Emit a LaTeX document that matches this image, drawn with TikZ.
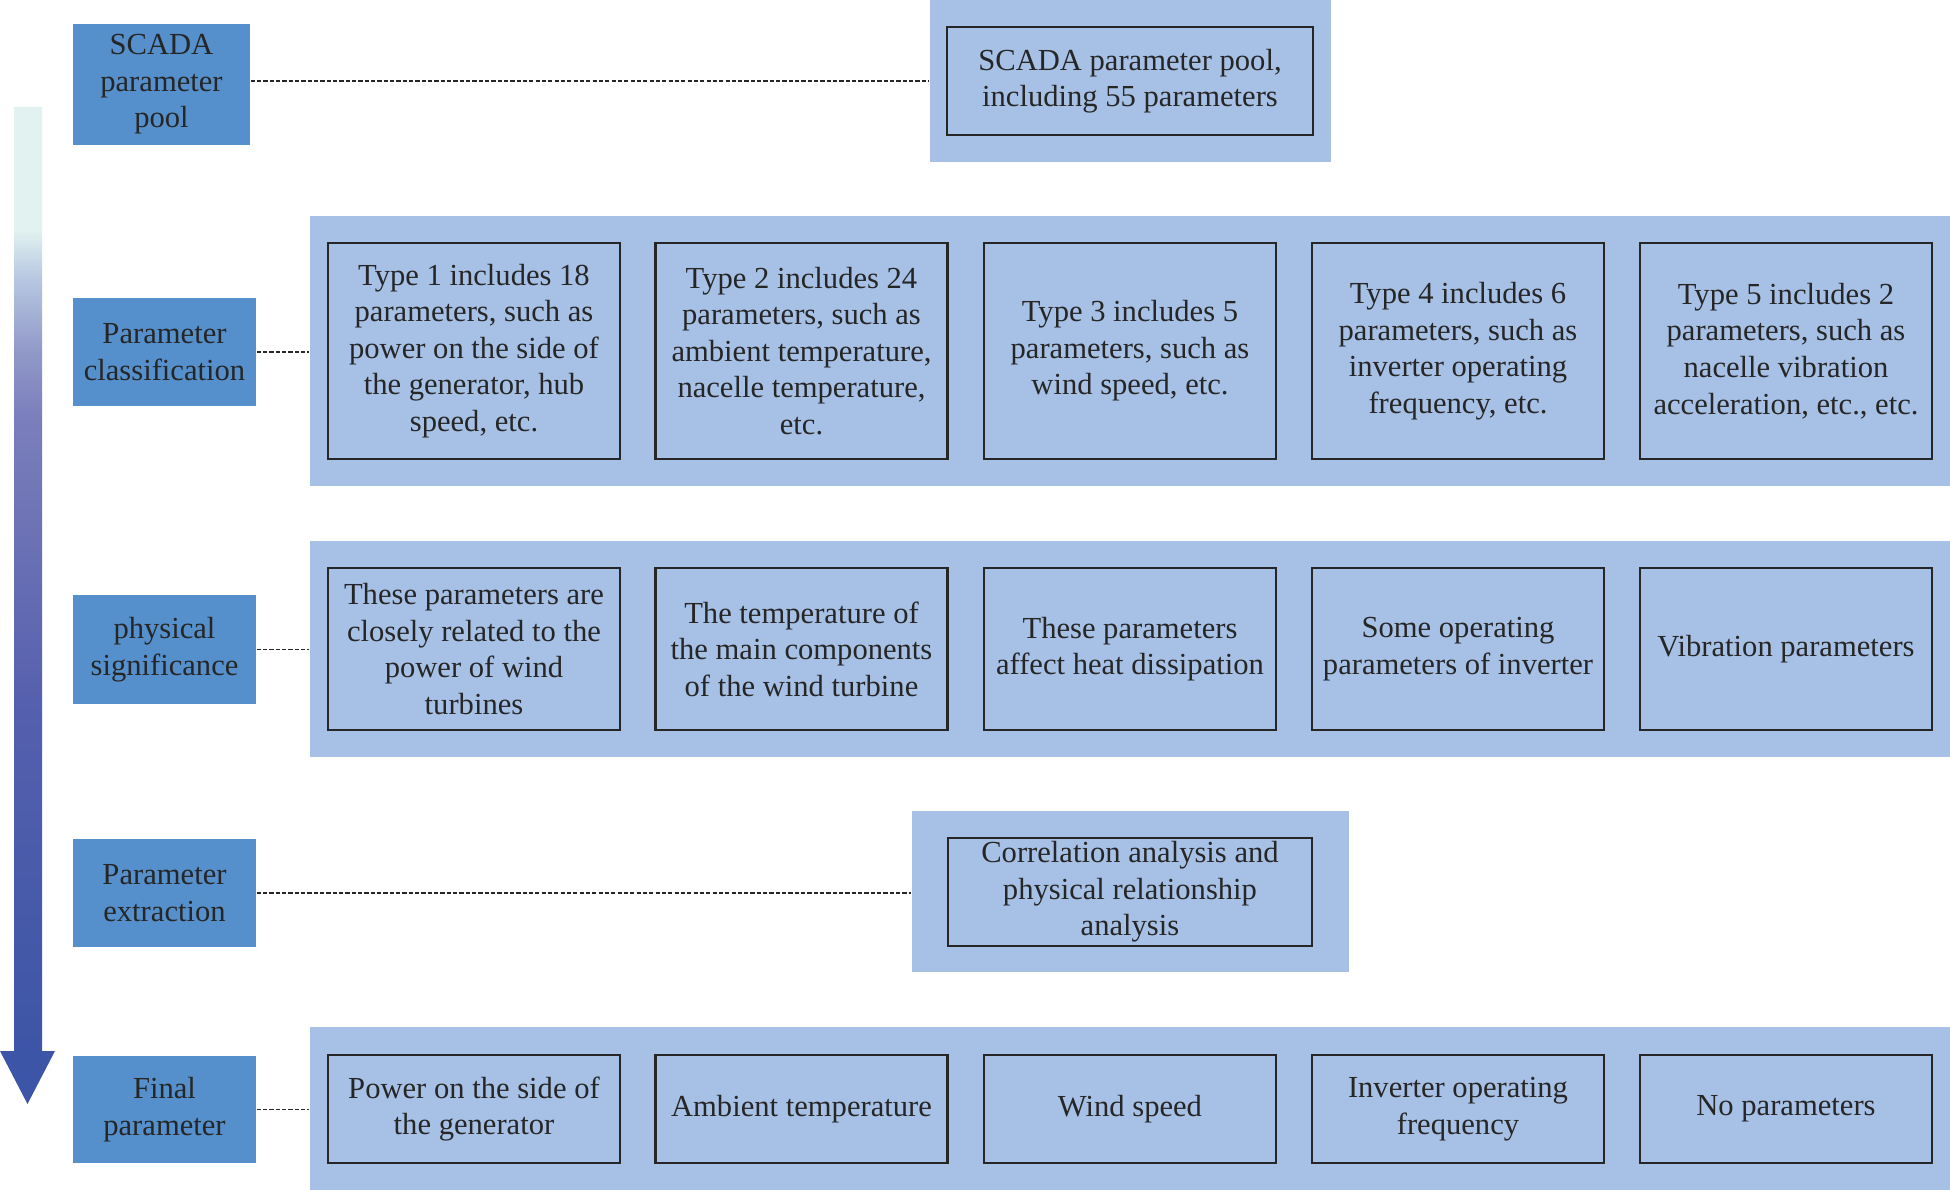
\documentclass[tikz,border=0pt]{standalone}
\usepackage{fontspec}
\setmainfont{Liberation Serif}
\definecolor{lblblue}{HTML}{5590CC}
\definecolor{bandblue}{HTML}{A7C0E5}
\definecolor{shaftlight}{HTML}{E2F2F0}
\definecolor{shaftpale}{HTML}{B8C8E2}
\definecolor{shaftlav}{HTML}{9098C8}
\definecolor{shaftmid}{HTML}{7A7EBC}
\definecolor{shaftdeep}{HTML}{6A70B4}
\definecolor{shaftblue}{HTML}{5560AE}
\definecolor{shaftdark}{HTML}{3D55A6}
\pgfdeclareverticalshading{shaftfade}{100bp}{color(0bp)=(shaftdark); color(25bp)=(shaftdark); color(43.5bp)=(shaftblue); color(51.5bp)=(shaftdeep); color(58.5bp)=(shaftmid); color(62bp)=(shaftlav); color(66bp)=(shaftpale); color(68.5bp)=(shaftlight); color(75bp)=(shaftlight); color(100bp)=(shaftlight)}
\begin{document}
\begin{tikzpicture}[x=0.01cm,y=-0.01cm,
    every node/.style={font=\fontsize{8.7}{10.4}\selectfont, text=black!85, align=center, inner sep=0pt},
    lbl/.style={fill=lblblue, minimum width=1.83cm, minimum height=1.08cm},
    band/.style={fill=bandblue, minimum width=16.4cm},
    item/.style={draw=black!85, line width=0.7pt, fill=bandblue, minimum width=2.92cm},
    link/.style={black!85, line width=0.5pt, dash pattern=on 1.2pt off 0.6pt}]
	\useasboundingbox (0,0) rectangle (1950,1190);
	
	\shade[shading=shaftfade] (14,107) rectangle (42,1052);
	\fill[shaftdark] (0,1051) -- (55,1051) -- (27.5,1104) -- cycle;
	
	\node[lbl, minimum width=1.77cm, minimum height=1.21cm] (LA) at (161.5,84.5) {SCADA\\parameter\\pool};
	\node[lbl] (LB) at (164.5,352) {Parameter\\classification};
	\node[lbl] (LC) at (164.5,649.5) {physical\\significance};
	\node[lbl] (LD) at (164.5,893) {Parameter\\extraction};
	\node[lbl, minimum height=1.07cm] (LE) at (164.5,1109.5) {Final\\parameter};
	
	\node[band, minimum width=4.01cm, minimum height=1.62cm] (BA) at (1130.5,81) {};
	\node[band, minimum height=2.70cm] (BB) at (1130,351) {};
	\node[band, minimum height=2.16cm] (BC) at (1130,649) {};
	\node[band, minimum width=4.37cm, minimum height=1.61cm] (BD) at (1130.5,891.5) {};
	\node[band, minimum height=1.63cm] (BE) at (1130,1108.5) {};
	
	\node[item, minimum width=3.66cm, minimum height=1.08cm] (PA) at (1130,81) {SCADA parameter pool,\\including 55 parameters};
	
	\node[item, minimum height=2.16cm] (TA) at (474,351) {Type 1 includes 18\\parameters, such as\\power on the side of\\the generator, hub\\speed, etc.};
	\node[item, minimum height=2.16cm] (TB) at (801.5,351) {Type 2 includes 24\\parameters, such as\\ambient temperature,\\nacelle temperature,\\etc.};
	\node[item, minimum height=2.16cm] (TC) at (1130,351) {Type 3 includes 5\\parameters, such as\\wind speed, etc.};
	\node[item, minimum height=2.16cm] (TD) at (1458,351) {Type 4 includes 6\\parameters, such as\\inverter operating\\frequency, etc.};
	\node[item, minimum height=2.16cm] (TE) at (1786,351) {Type 5 includes 2\\parameters, such as\\nacelle vibration\\acceleration, etc., etc.};
	
	\node[item, minimum height=1.62cm] (SA) at (474,649) {These parameters are\\closely related to the\\power of wind\\turbines};
	\node[item, minimum height=1.62cm] (SB) at (801.5,649) {The temperature of\\the main components\\of the wind turbine};
	\node[item, minimum height=1.62cm] (SC) at (1130,649) {These parameters\\affect heat dissipation};
	\node[item, minimum height=1.62cm] (SD) at (1458,649) {Some operating\\parameters of inverter};
	\node[item, minimum height=1.62cm] (SE) at (1786,649) {Vibration parameters};
	
	\node[item, minimum width=3.64cm, minimum height=1.08cm] (XA) at (1130,892) {Correlation analysis and\\physical relationship\\analysis};
	
	\node[item, minimum height=1.08cm] (FA) at (474,1109) {Power on the side of\\the generator};
	\node[item, minimum height=1.08cm] (FB) at (801.5,1109) {Ambient temperature};
	\node[item, minimum height=1.08cm] (FC) at (1130,1109) {Wind speed};
	\node[item, minimum height=1.08cm] (FD) at (1458,1109) {Inverter operating\\frequency};
	\node[item, minimum height=1.08cm] (FE) at (1786,1109) {No parameters};
	
	\draw[link] ([yshift=0.035cm]LA.east) -- ([yshift=0.035cm]LA.east -| BA.west);
	\draw[link] (LB.east) -- (LB.east -| BB.west);
	\draw[link] (LC.east) -- (LC.east -| BC.west);
	\draw[link] (LD.east) -- (LD.east -| BD.west);
	\draw[link] (LE.east) -- (LE.east -| BE.west);
\end{tikzpicture}
\end{document}
